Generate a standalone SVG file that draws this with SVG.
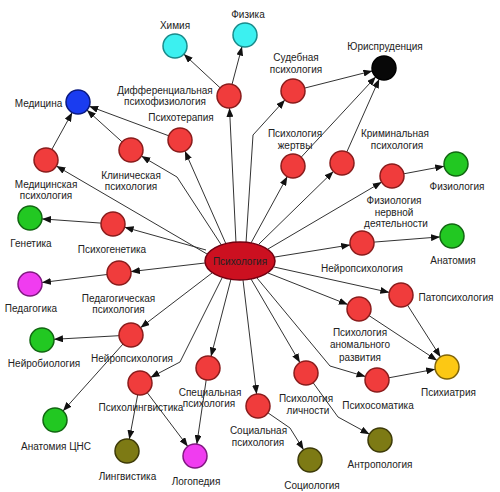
<svg xmlns="http://www.w3.org/2000/svg" width="500" height="492" viewBox="0 0 500 492">
<style>
text{font-family:"Liberation Sans",Arial,sans-serif;font-size:10px;fill:#222;text-anchor:middle}
.e{fill:none;stroke:#333;stroke-width:1;marker-end:url(#ah)}
.r{fill:#f03c3c;stroke:#8a1c1c;stroke-width:1.5}
.cy{fill:#3cf0f0;stroke:#1a8a8a;stroke-width:1.5}
.bl{fill:#1a3cf0;stroke:#0a1a80;stroke-width:1.5}
.bk{fill:#080808;stroke:#000;stroke-width:1.5}
.gr{fill:#22c822;stroke:#116611;stroke-width:1.5}
.mg{fill:#f03cf0;stroke:#801880;stroke-width:1.5}
.ol{fill:#7d7a14;stroke:#3d3a08;stroke-width:1.5}
.ye{fill:#fcc814;stroke:#806408;stroke-width:1.5}
</style>
<defs>
<marker id="ah" markerUnits="userSpaceOnUse" markerWidth="9" markerHeight="7" refX="9" refY="3.5" orient="auto">
<path d="M0,0 L9,3.5 L0,7 z" fill="#111"/>
</marker>
</defs>
<rect width="500" height="492" fill="#fff"/>
<g id="connectors">
<path class="e" d="M236,243 L229.5,108"/>
<path class="e" d="M226,244 L184.9,151"/>
<path class="e" d="M222,246 L177,177 L141.4,156.1"/>
<path class="e" d="M207,254 L56.4,166"/>
<path class="e" d="M206,250 L124.6,227.2"/>
<path class="e" d="M205,263 L130.9,271.6"/>
<path class="e" d="M212,273 L140.5,327.7"/>
<path class="e" d="M222,278 L180,362 L150.6,377.4"/>
<path class="e" d="M231,279 L211,356.4"/>
<path class="e" d="M243,280 L256.6,394.1"/>
<path class="e" d="M251,279 L299.9,362.6"/>
<path class="e" d="M257,278 L330,366 L365.5,376.6"/>
<path class="e" d="M268,273 L347.8,304.6"/>
<path class="e" d="M274,267 L389.3,292.4"/>
<path class="e" d="M275,257 L350.2,244.9"/>
<path class="e" d="M268,249 L381.7,182.1"/>
<path class="e" d="M259,244 L333.4,171.4"/>
<path class="e" d="M251,243 L287.3,176.5"/>
<path class="e" d="M246,243 L253,135 L284.9,99.9"/>
<path class="e" d="M220.2,87.9 L183.8,54.1"/>
<path class="e" d="M232,84.4 L242,46.6"/>
<path class="e" d="M168.8,135.8 L89.2,106.2"/>
<path class="e" d="M122.1,141.9 L86.9,110.1"/>
<path class="e" d="M51.8,149.5 L72.2,112.5"/>
<path class="e" d="M101,223.1 L42,218.9"/>
<path class="e" d="M107.1,274.5 L41.9,282.5"/>
<path class="e" d="M119,335.7 L54,339.3"/>
<path class="e" d="M123,344 L63,411"/>
<path class="e" d="M137.7,394.8 L129.3,439.2"/>
<path class="e" d="M147.2,392.6 L187.8,446.4"/>
<path class="e" d="M206.2,379.9 L196.8,444.1"/>
<path class="e" d="M267.9,412.8 L290,428 L303.6,449.8"/>
<path class="e" d="M313.1,382.7 L338,417 L369.5,434.2"/>
<path class="e" d="M388.8,377.8 L435.2,369.2"/>
<path class="e" d="M369,315.6 L437,360.4"/>
<path class="e" d="M407.5,305.1 L440.5,356.9"/>
<path class="e" d="M374,242.1 L440,236.9"/>
<path class="e" d="M403.8,173.8 L444.2,166.2"/>
<path class="e" d="M346.8,152 L379.2,79"/>
<path class="e" d="M301.2,157.2 L375.8,76.8"/>
<path class="e" d="M304.6,88.1 L372.4,70.9"/>
</g>
<g id="psychology"><ellipse cx="240" cy="261" rx="35" ry="19" fill="#cc1020" stroke="#700010" stroke-width="1.5"/><text x="240" y="265" fill="#300">Психология</text></g>
<g id="diff"><circle class="r" cx="229" cy="96" r="12"/><text x="165" y="94">Дифференциальная</text><text x="165" y="105">психофизиология</text></g>
<g id="chemistry"><circle class="cy" cx="175" cy="46" r="12"/><text x="175" y="28.5">Химия</text></g>
<g id="physics"><circle class="cy" cx="245" cy="35" r="12"/><text x="248" y="17.5">Физика</text></g>
<g id="medicine"><circle class="bl" cx="78" cy="102" r="12"/><text x="38.5" y="106.5">Медицина</text></g>
<g id="psychotherapy"><circle class="r" cx="180" cy="140" r="12"/><text x="181" y="120.5">Психотерапия</text></g>
<g id="clinical"><circle class="r" cx="131" cy="150" r="12"/><text x="131" y="178.5">Клиническая</text><text x="131" y="190">психология</text></g>
<g id="medpsy"><circle class="r" cx="46" cy="160" r="12"/><text x="46" y="187.5">Медицинская</text><text x="46" y="198.5">психология</text></g>
<g id="genetics"><circle class="gr" cx="30" cy="218" r="12"/><text x="31" y="246.5">Генетика</text></g>
<g id="psychogenetics"><circle class="r" cx="113" cy="224" r="12"/><text x="112" y="252.5">Психогенетика</text></g>
<g id="pedagogy"><circle class="mg" cx="30" cy="284" r="12"/><text x="31" y="311.5">Педагогика</text></g>
<g id="pedpsy"><circle class="r" cx="119" cy="273" r="12"/><text x="118.5" y="301.5">Педагогическая</text><text x="118.5" y="312.5">психология</text></g>
<g id="neurobiology"><circle class="gr" cx="42" cy="340" r="12"/><text x="44" y="366.5">Нейробиология</text></g>
<g id="neuropsy-l"><circle class="r" cx="131" cy="335" r="12"/><text x="132" y="361.5">Нейропсихология</text></g>
<g id="psycholinguistics"><circle class="r" cx="140" cy="383" r="12"/><text x="141" y="410.5">Психолингвистика</text></g>
<g id="cns"><circle class="gr" cx="55" cy="420" r="12"/><text x="56" y="449.5">Анатомия ЦНС</text></g>
<g id="linguistics"><circle class="ol" cx="127" cy="451" r="12"/><text x="127.5" y="479.5">Лингвистика</text></g>
<g id="logopedics"><circle class="mg" cx="195" cy="456" r="12"/><text x="196" y="484.5">Логопедия</text></g>
<g id="special"><circle class="r" cx="208" cy="368" r="12"/><text x="210" y="395.5">Специальная</text><text x="209" y="406.5">психология</text></g>
<g id="social"><circle class="r" cx="258" cy="406" r="12"/><text x="258.5" y="433.5">Социальная</text><text x="258" y="445.5">психология</text></g>
<g id="sociology"><circle class="ol" cx="310" cy="460" r="12"/><text x="312" y="488.5">Социология</text></g>
<g id="personality"><circle class="r" cx="306" cy="373" r="12"/><text x="306" y="401.5">Психология</text><text x="308" y="413.5">личности</text></g>
<g id="anthropology"><circle class="ol" cx="380" cy="440" r="12"/><text x="380" y="467.5">Антропология</text></g>
<g id="psychosomatics"><circle class="r" cx="377" cy="380" r="12"/><text x="378" y="408.5">Психосоматика</text></g>
<g id="psychiatry"><circle class="ye" cx="447" cy="367" r="12"/><text x="448.5" y="395.5">Психиатрия</text></g>
<g id="abnormal"><circle class="r" cx="359" cy="309" r="12"/><text x="360" y="335.5">Психология</text><text x="360" y="348">аномального</text><text x="360" y="360.5">развития</text></g>
<g id="pathopsy"><circle class="r" cx="401" cy="295" r="12"/><text x="456" y="300.5">Патопсихология</text></g>
<g id="neuropsy-r"><circle class="r" cx="362" cy="243" r="12"/><text x="362" y="271.5">Нейропсихология</text></g>
<g id="anatomy"><circle class="gr" cx="452" cy="236" r="12"/><text x="453" y="263.5">Анатомия</text></g>
<g id="nervphys"><circle class="r" cx="392" cy="176" r="12"/><text x="394" y="203.5">Физиология</text><text x="394" y="215.5">нервной</text><text x="396" y="227">деятельности</text></g>
<g id="physiology"><circle class="gr" cx="456" cy="164" r="12"/><text x="457" y="189.5">Физиология</text></g>
<g id="law"><circle class="bk" cx="384" cy="68" r="12"/><text x="385" y="49.5">Юриспруденция</text></g>
<g id="forensic"><circle class="r" cx="293" cy="91" r="12"/><text x="296" y="60.5">Судебная</text><text x="296" y="72.5">психология</text></g>
<g id="victim"><circle class="r" cx="293" cy="166" r="12"/><text x="295" y="136.5">Психология</text><text x="295" y="148.5">жертвы</text></g>
<g id="criminal"><circle class="r" cx="342" cy="163" r="12"/><text x="395" y="136.5">Криминальная</text><text x="397" y="148.5">психология</text></g>
</svg>
